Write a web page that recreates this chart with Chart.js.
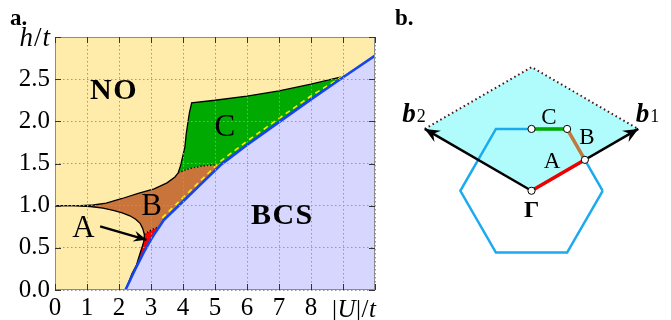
<!DOCTYPE html>
<html><head><meta charset="utf-8">
<script src="https://cdn.jsdelivr.net/npm/chart.js@4.4.1/dist/chart.umd.min.js"></script>
<style>
html,body{margin:0;padding:0;background:#fff;width:671px;height:320px;overflow:hidden}
#ca{position:absolute;left:0;top:0}
#cb{position:absolute;left:380px;top:0}
</style></head><body>
<canvas id="ca" width="400" height="320"></canvas>
<canvas id="cb" width="291" height="320"></canvas>
<script>
// ================= Panel a: phase diagram (|U|/t , h/t) =================
const xTickLabels = ['0','1','2','3','4','5','6','7','8','',''];
const yTickLabels = ['0.0','0.5','1.0','1.5','2.0','2.5',''];

// BCS boundary (blue)
const bcsU = [2.2, 2.5, 2.66, 2.8, 2.97, 3.1, 3.25, 3.4, 4.0, 4.6, 5.2, 6.0, 7.0, 8.0, 9.05, 10.0];
const bcsH = [0.0, 0.24, 0.36, 0.465, 0.58, 0.66, 0.745, 0.83, 1.05, 1.27, 1.49, 1.72, 1.99, 2.26, 2.535, 2.78];
// upper boundary of B (black)
const upperBU = [0, 0.8, 1.2, 1.6, 2.1, 2.6, 3.1, 3.5, 3.75, 3.85];
const upperBH = [1.0, 1.0, 1.008, 1.03, 1.085, 1.145, 1.2, 1.27, 1.34, 1.39];
// left edge of C (black)
const cLeftU = [3.85, 3.92, 4.0, 4.06, 4.1, 4.15, 4.2, 4.27];
const cLeftH = [1.39, 1.47, 1.6, 1.7, 1.85, 1.98, 2.1, 2.22];
// top edge of C (black)
const cTopU = [4.27, 5.0, 6.0, 7.0, 8.0, 9.05];
const cTopH = [2.22, 2.25, 2.30, 2.36, 2.44, 2.535];
// B / C dotted boundary
const bcDotU = [3.85, 4.2, 4.6, 5.0, 5.2];
const bcDotH = [1.39, 1.44, 1.47, 1.485, 1.49];
// lower boundary of B (black)
const lowBU = [0, 0.6, 1.1, 1.5, 1.82, 2.1, 2.34, 2.52, 2.66, 2.74, 2.79];
const lowBH = [1.0, 1.0, 0.99, 0.97, 0.944, 0.915, 0.88, 0.84, 0.79, 0.73, 0.66];
// left edge of A (black) and its continuation
const aLeftU = [2.79, 2.79, 2.77, 2.73, 2.68, 2.62, 2.55];
const aLeftH = [0.66, 0.62, 0.57, 0.52, 0.46, 0.39, 0.30];
const tailU = [2.4, 2.3, 2.22];
const tailH = [0.19, 0.09, 0.01];
// A / B dotted boundary
const abDotU = [2.79, 2.95, 3.1, 3.25];
const abDotH = [0.66, 0.70, 0.73, 0.745];
// yellow dashed line
const yelU = [3.35, 4.0, 4.6, 5.2, 6.0, 7.0, 8.0, 9.05];
const yelH = [0.855, 1.095, 1.315, 1.535, 1.765, 2.035, 2.30, 2.55];
// arrow pointing at A
const arrU = [1.41, 2.86];
const arrH = [0.754, 0.595];

// ================= Panel b: Brillouin zone =================
const hexX = [1, 0.5, -0.5, -1, -0.5, 0.5, 1];
const hexY = [0, 0.866, 0.866, 0, -0.866, -0.866, 0];
const cellX = [0, 1.5, 0, -1.5, 0];
const cellY = [0, 0.866, 1.732, 0.866, 0];
const cellEdgeX = [-1.5, 0, 1.5];
const cellEdgeY = [0.866, 1.732, 0.866];
const b1X = [0, 1.5], b1Y = [0, 0.866];
const b2X = [0, -1.5], b2Y = [0, 0.866];
const pathAX = [0, 0.75], pathAY = [0, 0.433];
const pathBX = [0.75, 0.5], pathBY = [0.433, 0.866];
const pathCX = [0.5, 0], pathCY = [0.866, 0.866];
const nodeX = [0, 0.75, 0.5, 0];
const nodeY = [0, 0.433, 0.866, 0.866];

// ---------- helpers ----------
const P = (u, h) => u.map((x, i) => ({x, y: h[i]}));
const rev = a => a.slice().reverse();
const between = (u, h, a, b) => P(u, h).filter(p => p.x >= a - 1e-9 && p.x <= b + 1e-9);

const polyB = [...P(upperBU, upperBH), ...P(bcDotU, bcDotH).slice(1),
  ...rev(between(bcsU, bcsH, 3.25, 5.2)).slice(1), ...rev(P(abDotU, abDotH)).slice(1),
  ...rev(P(lowBU, lowBH)).slice(1)];
const polyC = [...P(cLeftU, cLeftH), ...P(cTopU, cTopH).slice(1),
  ...rev(between(bcsU, bcsH, 5.2, 9.05)).slice(1), ...rev(P(bcDotU, bcDotH)).slice(1)];
const polyA = [...P(aLeftU, aLeftH), ...between(bcsU, bcsH, 2.56, 3.25),
  ...rev(P(abDotU, abDotH)).slice(1)];
const upperLine = [...P(upperBU, upperBH), ...P(cLeftU, cLeftH).slice(1), ...P(cTopU, cTopH).slice(1)];
const lowerLine = [...P(lowBU, lowBH), ...P(aLeftU, aLeftH).slice(1), ...P(tailU, tailH)];

const SERIF = '"Liberation Serif", "DejaVu Serif", serif';
const ds = (data, o) => Object.assign({data, pointRadius: 0, pointHoverRadius: 0, tension: 0,
  fill: false, borderWidth: 0, borderColor: 'rgba(0,0,0,0)', backgroundColor: 'rgba(0,0,0,0)'}, o);

function arrowHead(ctx, x0, y0, x1, y1, len, half, color) {
  const a = Math.atan2(y1 - y0, x1 - x0);
  ctx.save(); ctx.translate(x1, y1); ctx.rotate(a);
  ctx.beginPath(); ctx.moveTo(0, 0); ctx.lineTo(-len, -half); ctx.lineTo(-len * 0.65, 0);
  ctx.lineTo(-len, half); ctx.closePath(); ctx.fillStyle = color; ctx.fill(); ctx.restore();
}
function runs(ctx, x, y, parts, align) {
  let w = 0;
  parts.forEach(p => { ctx.font = p[1]; w += ctx.measureText(p[0]).width + (p[2] || 0); });
  let cx = align === 'center' ? x - w / 2 : align === 'right' ? x - w : x;
  ctx.textAlign = 'left';
  parts.forEach(p => { ctx.font = p[1]; ctx.fillText(p[0], cx, y); cx += ctx.measureText(p[0]).width + (p[2] || 0); });
}
const spaced = (txt, font, gap) => txt.split('').map((c, i, a) => [c, font, i < a.length - 1 ? gap : 0]);
function drawArrows(chart) {
  const ctx = chart.ctx;
  chart.data.datasets.forEach((d, i) => {
    if (!d.arrowHead) return;
    const pts = chart.getDatasetMeta(i).data;
    const a = pts[pts.length - 2], b = pts[pts.length - 1];
    arrowHead(ctx, a.x, a.y, b.x, b.y, d.arrowHead[0], d.arrowHead[1], d.borderColor);
  });
}

// ---------- chart a ----------
const decorA = {
  id: 'decorA',
  beforeDatasetsDraw(chart) {
    const {ctx, chartArea: c} = chart;
    ctx.save(); ctx.fillStyle = '#FFECAA'; ctx.fillRect(c.left, c.top, c.right - c.left, c.bottom - c.top); ctx.restore();
  },
  afterDraw(chart) {
    const {ctx, chartArea: c} = chart;
    const xs = chart.scales.x, ys = chart.scales.y;
    ctx.save();
    drawArrows(chart);
    // frame
    ctx.strokeStyle = '#8c8c8c'; ctx.lineWidth = 1;
    ctx.strokeRect(c.left + 0.5, c.top + 0.5, c.right - c.left - 1, c.bottom - c.top - 1);
    // inward ticks
    ctx.strokeStyle = '#333'; ctx.beginPath();
    xs.ticks.forEach(t => { const px = Math.round(xs.getPixelForValue(t.value)) + 0.5;
      ctx.moveTo(px, c.bottom); ctx.lineTo(px, c.bottom - 6); ctx.moveTo(px, c.top); ctx.lineTo(px, c.top + 6); });
    ys.ticks.forEach(t => { const py = Math.round(ys.getPixelForValue(t.value)) + 0.5;
      ctx.moveTo(c.left, py); ctx.lineTo(c.left + 6, py); ctx.moveTo(c.right, py); ctx.lineTo(c.right - 6, py); });
    ctx.stroke();
    // region labels
    ctx.fillStyle = '#000'; ctx.textBaseline = 'middle';
    const L = (parts, u, h) => runs(ctx, xs.getPixelForValue(u), ys.getPixelForValue(h), parts, 'center');
    L(spaced('NO', 'bold 30px ' + SERIF, 1.5), 1.82, 2.36);
    L(spaced('BCS', 'bold 30px ' + SERIF, 1.5), 7.08, 0.87);
    L([['A', '31px ' + SERIF]], 0.89, 0.73);
    L([['B', '31px ' + SERIF]], 3.02, 0.99);
    L([['C', '31px ' + SERIF]], 5.31, 1.92);
    // axis titles
    runs(ctx, 50, ys.getPixelForValue(3) + 2, [['h', 'italic 27px ' + SERIF, 1], ['/', '27px ' + SERIF, 1], ['t', 'italic 27px ' + SERIF]], 'right');
    ctx.textBaseline = 'alphabetic';
    runs(ctx, xs.getPixelForValue(9) - 11, 317, [['|', '25px ' + SERIF, 0.5], ['U', 'italic 25px ' + SERIF, 0.5], ['|', '25px ' + SERIF, 0.5], ['/', '25px ' + SERIF, 0.5], ['t', 'italic 25px ' + SERIF]], 'left');
    runs(ctx, 10, 25, [['a.', 'bold 23px ' + SERIF]], 'left');
    ctx.restore();
  }
};

new Chart(document.getElementById('ca'), {
  type: 'line',
  data: { datasets: [
    ds(P(arrU, arrH), {borderColor: '#000', borderWidth: 2.4, arrowHead: [13, 5.5]}),
    ds(P(bcsU, bcsH), {borderColor: '#1446EE', borderWidth: 2.6, fill: 'origin', backgroundColor: '#D6D6FF'}),
    ds(P(yelU, yelH), {borderColor: '#FFEE00', borderWidth: 1.6, borderDash: [5, 4]}),
    ds(P(abDotU, abDotH), {borderColor: '#000', borderWidth: 1.3, borderDash: [1.3, 2]}),
    ds(P(bcDotU, bcDotH), {borderColor: '#000', borderWidth: 1.3, borderDash: [1.3, 2]}),
    ds(upperLine, {borderColor: '#000', borderWidth: 1.3}),
    ds(lowerLine, {borderColor: '#000', borderWidth: 1.3}),
    ds(polyA, {fill: 'shape', backgroundColor: '#FF0000'}),
    ds(polyC, {fill: 'shape', backgroundColor: '#00AA00'}),
    ds(polyB, {fill: 'shape', backgroundColor: '#C8743A'})
  ]},
  options: {
    responsive: false, animation: false, events: [],
    layout: {padding: {left: 0, top: 37, right: 25, bottom: 0}},
    plugins: {legend: {display: false}, tooltip: {enabled: false}},
    scales: {
      x: {type: 'linear', min: 0, max: 10,
        afterFit: s => { s.height = 30; },
        ticks: {stepSize: 1, autoSkip: false, maxRotation: 0, padding: 3, color: '#000',
          font: {family: SERIF, size: 25}, callback: (v, i) => xTickLabels[i]},
        grid: {color: '#999', lineWidth: 1, drawTicks: false, z: 1},
        border: {display: false, dash: [1.5, 2.5]}},
      y: {type: 'linear', min: 0, max: 3,
        afterFit: s => { s.width = 55; },
        ticks: {stepSize: 0.5, padding: 5, color: '#000',
          font: {family: SERIF, size: 25}, callback: (v, i) => yTickLabels[i]},
        grid: {color: '#999', lineWidth: 1, drawTicks: false, z: 1},
        border: {display: false, dash: [1.5, 2.5]}}
    }
  },
  plugins: [decorA]
});

// ---------- chart b ----------
const decorB = {
  id: 'decorB',
  afterDraw(chart) {
    const {ctx} = chart;
    const xs = chart.scales.x, ys = chart.scales.y;
    ctx.save();
    drawArrows(chart);
    ctx.fillStyle = '#000'; ctx.textBaseline = 'middle';
    const X = v => xs.getPixelForValue(v), Y = v => ys.getPixelForValue(v);
    runs(ctx, X(0.245), Y(1.016), [['C', '23px ' + SERIF]], 'center');
    runs(ctx, X(0.78), Y(0.737), [['B', '23px ' + SERIF]], 'center');
    runs(ctx, X(0.29), Y(0.408), [['A', '23px ' + SERIF]], 'center');
    runs(ctx, X(0), Y(-0.276), [['Γ', 'bold 24px ' + SERIF]], 'center');
    ctx.textBaseline = 'alphabetic';
    runs(ctx, X(-1.815), Y(0.966), [['b', 'bold italic 27px ' + SERIF, 1], ['2', '18px ' + SERIF]], 'left');
    runs(ctx, X(1.464), Y(0.966), [['b', 'bold italic 27px ' + SERIF, 1], ['1', '18px ' + SERIF]], 'left');
    runs(ctx, 15, 25, [['b.', 'bold 23px ' + SERIF]], 'left');
    ctx.restore();
  }
};

new Chart(document.getElementById('cb'), {
  type: 'line',
  data: { datasets: [
    ds(P(nodeX, nodeY), {showLine: false, pointRadius: 3.6, pointBackgroundColor: '#fff', pointBorderColor: '#000', pointBorderWidth: 1}),
    ds(P(pathCX, pathCY), {borderColor: '#00AA00', borderWidth: 3.5}),
    ds(P(pathBX, pathBY), {borderColor: '#C07A3E', borderWidth: 3.5}),
    ds(P(pathAX, pathAY), {borderColor: '#EE0000', borderWidth: 3.5}),
    ds(P(b1X, b1Y), {borderColor: '#000', borderWidth: 2.5, arrowHead: [15, 6.5]}),
    ds(P(b2X, b2Y), {borderColor: '#000', borderWidth: 2.5, arrowHead: [15, 6.5]}),
    ds(P(hexX, hexY), {borderColor: '#1AAAF0', borderWidth: 2.5, borderJoinStyle: 'miter'}),
    ds(P(cellEdgeX, cellEdgeY), {borderColor: '#4A1010', borderWidth: 2, borderDash: [1.5, 3]}),
    ds(P(cellX, cellY), {fill: 'shape', backgroundColor: '#B0FCFC'})
  ]},
  options: {
    responsive: false, animation: false, events: [],
    layout: {padding: 0},
    plugins: {legend: {display: false}, tooltip: {enabled: false}},
    scales: {
      x: {type: 'linear', min: -2.064, max: 1.895, display: false},
      y: {type: 'linear', min: -1.746, max: 2.608, display: false}
    }
  },
  plugins: [decorB]
});
</script>
</body></html>
